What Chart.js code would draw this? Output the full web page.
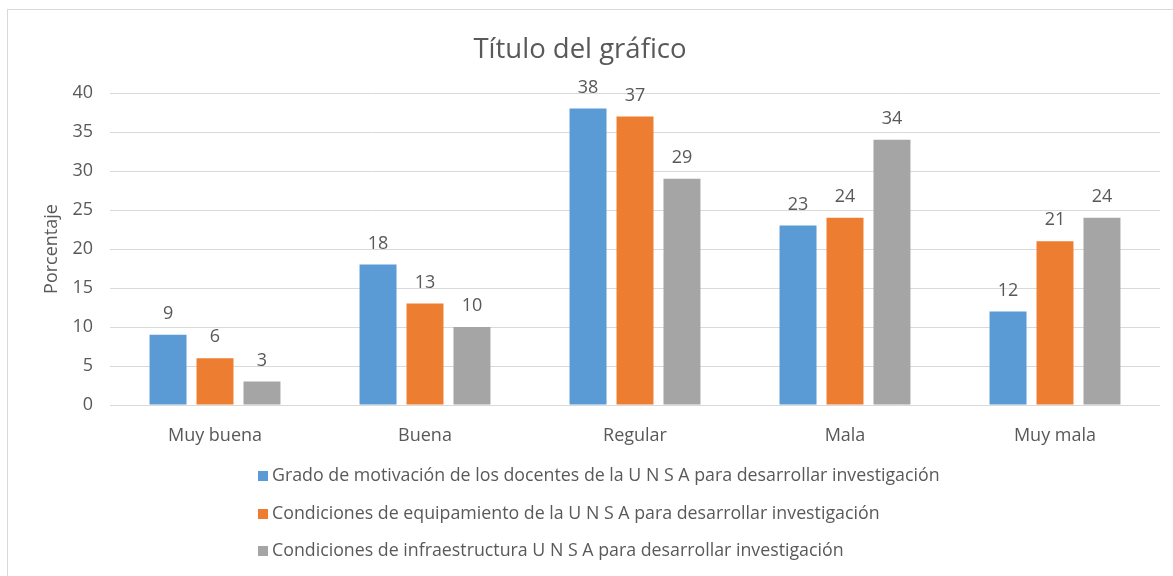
<!DOCTYPE html>
<html>
<head>
<meta charset="utf-8">
<script src="https://cdn.jsdelivr.net/npm/chart.js@4.4.1/dist/chart.umd.min.js"></script>
<style>
  html, body { margin: 0; padding: 0; background: #fff; }
  #wrap { position: relative; width: 1173px; height: 576px; overflow: hidden; }
  #frame { position: absolute; left: 7px; top: 9px; width: 1200px; height: 600px; border: 1px solid #d9d9d9; pointer-events: none; }
</style>
</head>
<body>
<div id="wrap">
  <canvas id="chart" width="1173" height="576"></canvas>
  <div id="frame"></div>
</div>
<script>
const categories = ['Muy buena', 'Buena', 'Regular', 'Mala', 'Muy mala'];
const motivacion = [9, 18, 38, 23, 12];
const equipamiento = [6, 13, 37, 24, 21];
const infraestructura = [3, 10, 29, 34, 24];
const seriesNames = [
  'Grado de motivación de los docentes de la U N S A para desarrollar investigación',
  'Condiciones de equipamiento de la U N S A para desarrollar investigación',
  'Condiciones de infraestructura U N S A para desarrollar investigación'
];
const yTicks = { min: 0, max: 40, step: 5 };

const textColor = '#595959';
const fontFamily = '"Open Sans", sans-serif';

// value labels above bars
const barLabels = {
  id: 'barLabels',
  afterDatasetsDraw(chart) {
    const ctx = chart.ctx;
    ctx.save();
    ctx.font = '18px ' + fontFamily;
    ctx.fillStyle = textColor;
    ctx.textAlign = 'center';
    ctx.textBaseline = 'middle';
    chart.data.datasets.forEach((ds, i) => {
      chart.getDatasetMeta(i).data.forEach((bar, j) => {
        ctx.fillText(ds.data[j], bar.x, bar.y - 21);
      });
    });
    ctx.restore();
  }
};

// legend stacked one per line, left aligned
const stackedLegend = {
  id: 'stackedLegend',
  afterDraw(chart) {
    const ctx = chart.ctx;
    const x = 258;
    const rows = [476, 514, 551];
    ctx.save();
    ctx.font = '17.8px ' + fontFamily;
    ctx.textBaseline = 'middle';
    chart.data.datasets.forEach((ds, i) => {
      ctx.fillStyle = ds.backgroundColor;
      ctx.fillRect(x, rows[i] - 5, 10, 10);
      ctx.fillStyle = textColor;
      ctx.fillText(ds.label, x + 14, rows[i]);
    });
    ctx.restore();
  }
};

new Chart(document.getElementById('chart'), {
  type: 'bar',
  data: {
    labels: categories,
    datasets: [
      { label: seriesNames[0], data: motivacion, backgroundColor: '#5B9BD5' },
      { label: seriesNames[1], data: equipamiento, backgroundColor: '#ED7D31' },
      { label: seriesNames[2], data: infraestructura, backgroundColor: '#A5A5A5' }
    ]
  },
  options: {
    responsive: false,
    animation: false,
    datasets: {
      bar: { categoryPercentage: 0.671, barPercentage: 0.787 }
    },
    layout: {
      padding: { left: 0, right: 13, top: 0, bottom: 126 }
    },
    plugins: {
      legend: { display: false },
      tooltip: { enabled: false },
      title: {
        display: true,
        text: 'Título del gráfico',
        color: textColor,
        font: { family: fontFamily, size: 27.5, weight: 'normal' },
        padding: { top: 34, bottom: 26 }
      }
    },
    scales: {
      x: {
        grid: { display: false },
        border: { display: false },
        ticks: {
          color: textColor,
          font: { family: fontFamily, size: 18 },
          padding: 12
        },
        afterFit(scale) { scale.height = 45; }
      },
      y: {
        min: yTicks.min,
        max: yTicks.max,
        grid: { color: '#d9d9d9', drawTicks: false },
        border: { display: false },
        ticks: {
          stepSize: yTicks.step,
          color: textColor,
          font: { family: fontFamily, size: 18 },
          padding: 17
        },
        title: {
          display: true,
          text: 'Porcentaje',
          color: textColor,
          font: { family: fontFamily, size: 18 },
          padding: { top: 41 }
        },
        afterFit(scale) { scale.width = 110; }
      }
    }
  },
  plugins: [barLabels, stackedLegend]
});
</script>
</body>
</html>
